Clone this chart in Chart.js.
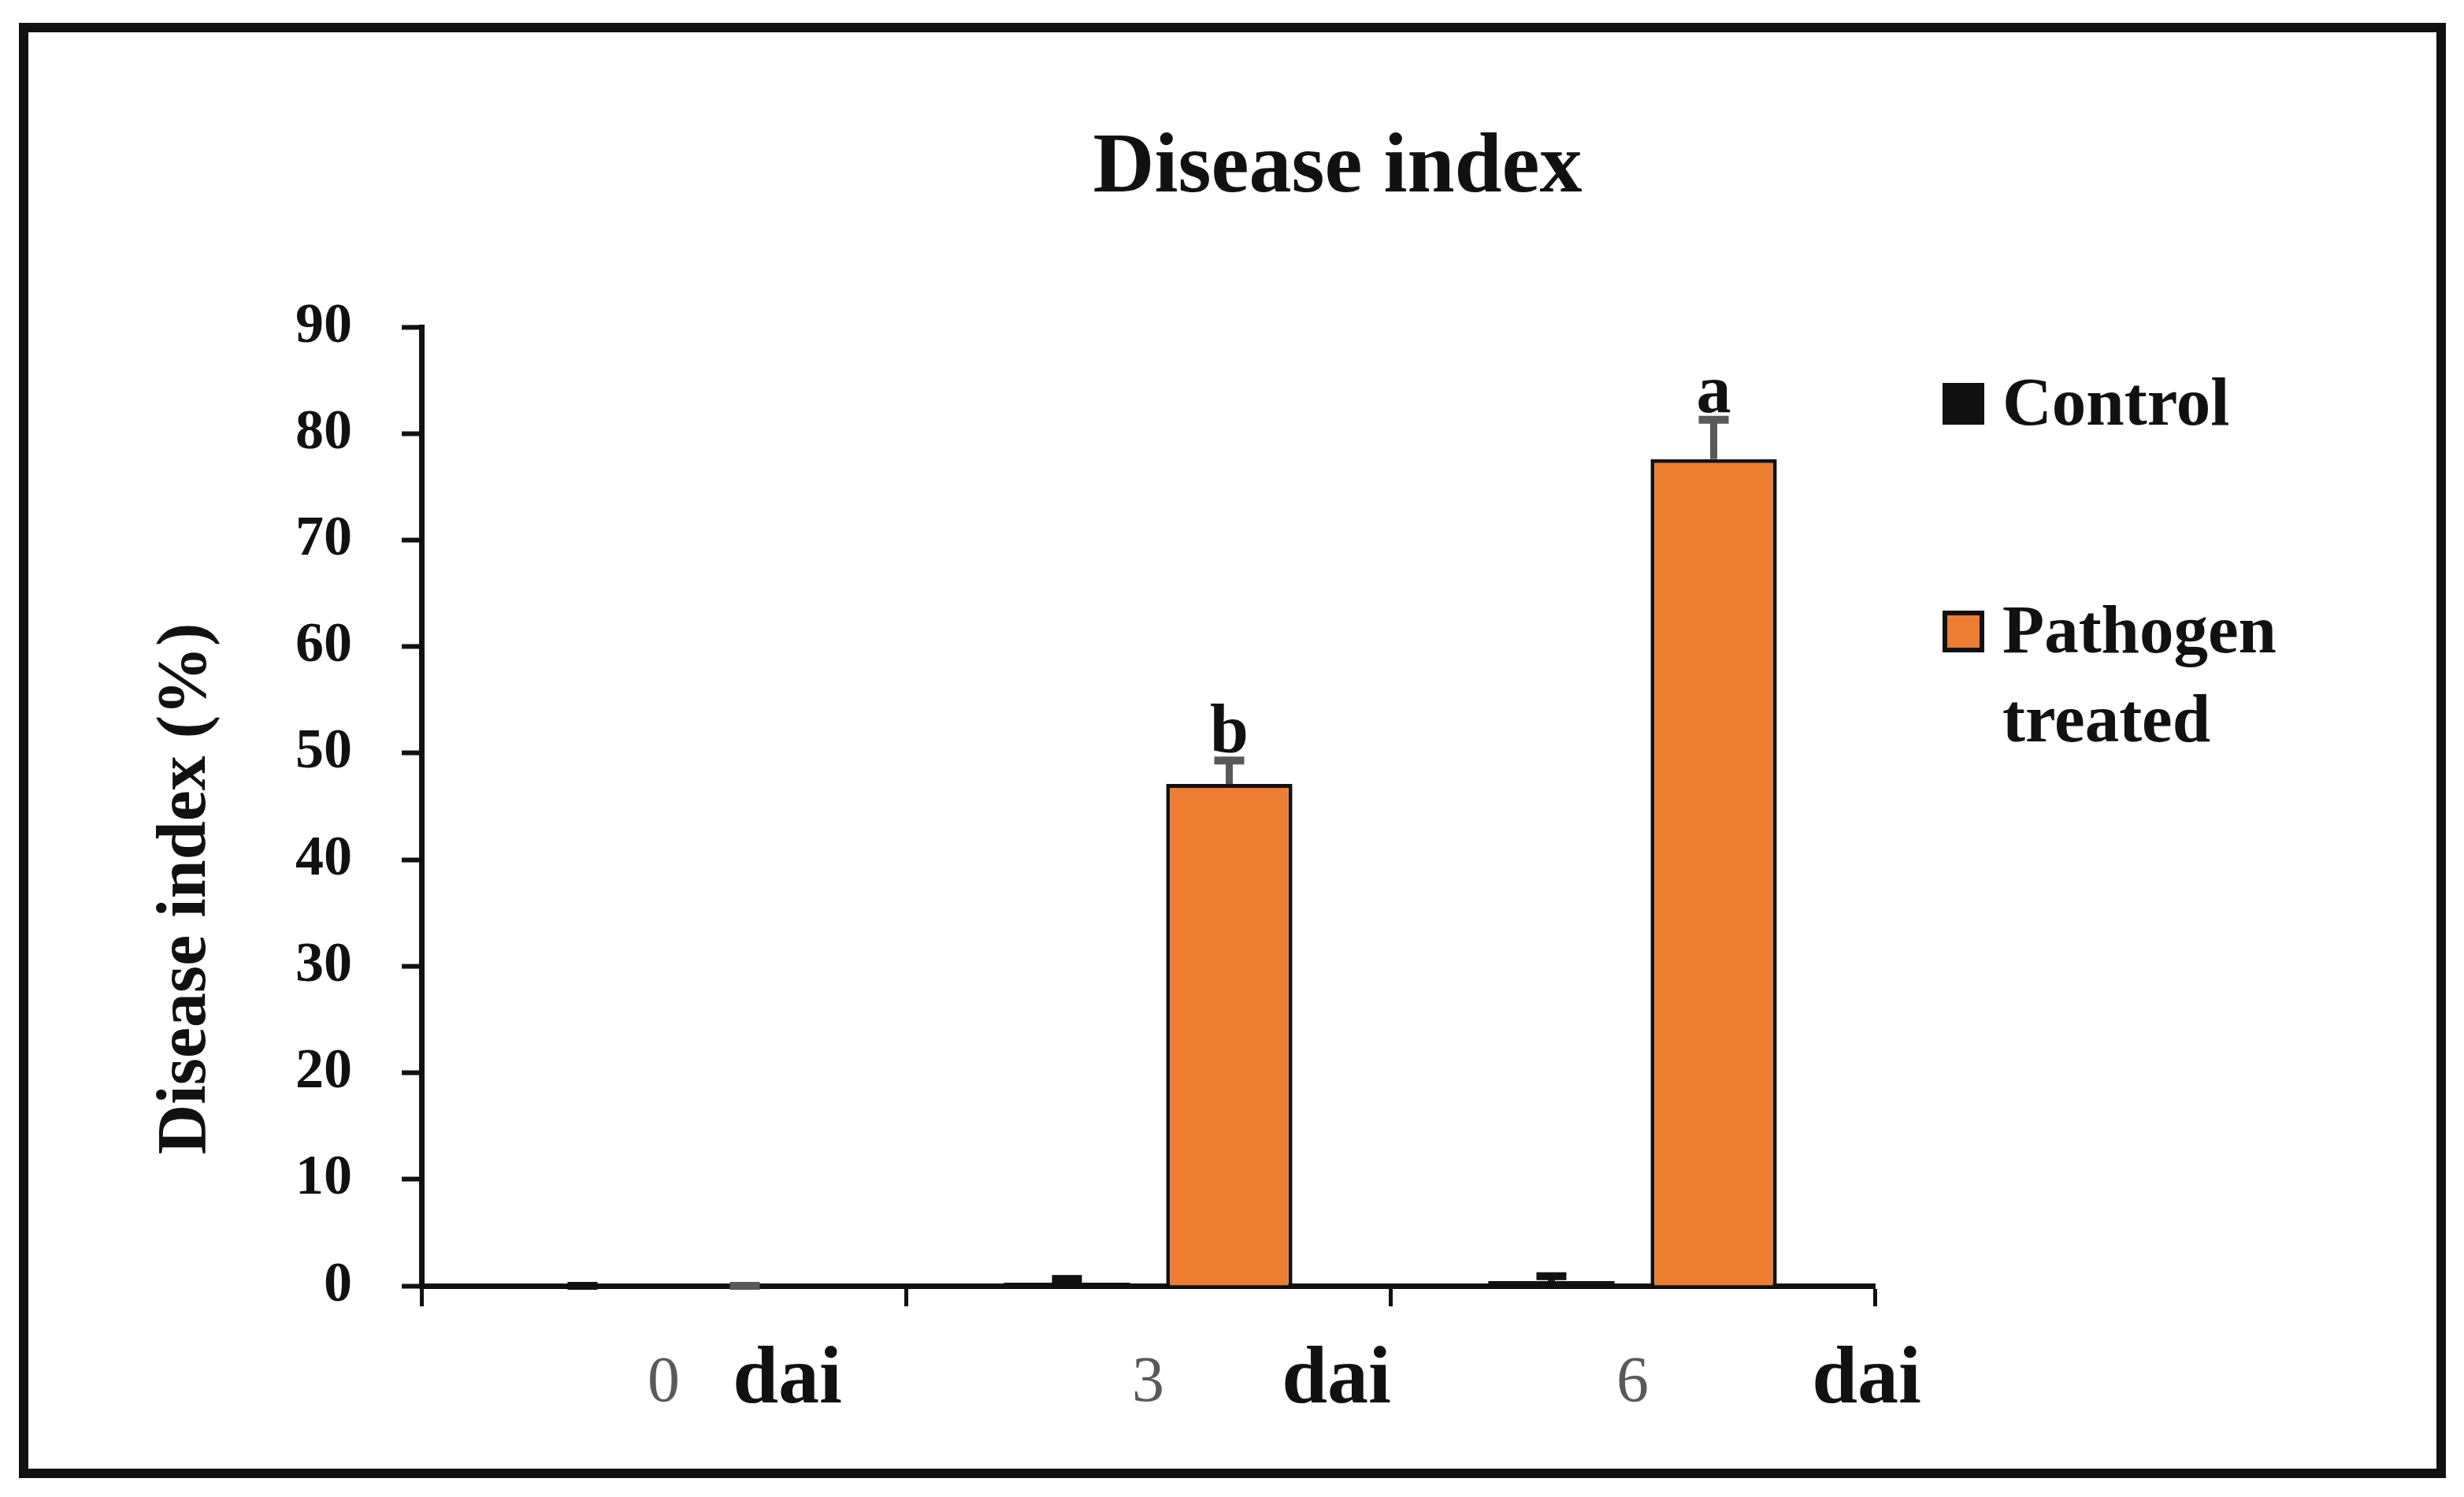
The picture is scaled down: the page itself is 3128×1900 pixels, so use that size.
<!DOCTYPE html>
<html><head><meta charset="utf-8">
<script src="https://cdn.jsdelivr.net/npm/chart.js@4.4.1/dist/chart.umd.min.js"></script>
<style>html,body{margin:0;padding:0;background:#fff}#wrap{width:3128px;height:1900px;position:relative}</style>
</head><body><div id="wrap"><canvas id="c"></canvas></div>
<script>
// ---- data ----
const categories = ['0', '3', '6'];
const unitLabel = 'dai';
const seriesNames = ['Control', 'Pathogen treated'];
const controlValues = [0, 0.3, 0.45];
const controlErrors = [0, 0.35, 0.45];
const pathogenValues = [0, 47.1, 77.6];
const pathogenErrors = [0, 2.2, 3.7];
const pathogenLetters = ['', 'b', 'a'];
const yTickValues = [0, 10, 20, 30, 40, 50, 60, 70, 80, 90];
const chartTitle = 'Disease index';
const yAxisTitle = 'Disease index (%)';

// ---- styles / layout ----
const SERIF = '"Liberation Serif", "Times New Roman", serif';
const INK = '#111111';
const ORANGE = '#ED7D31';
const GREY = '#595959';
const daiOffsets = [157, 239, 297];

const deco = {
  id: 'deco',
  beforeDraw(chart) {
    const ctx = chart.ctx;
    ctx.save();
    ctx.fillStyle = '#fff';
    ctx.fillRect(0, 0, chart.width, chart.height);
    ctx.restore();
  },
  afterDatasetsDraw(chart) {
    const ctx = chart.ctx;
    const ys = chart.scales.y;
    ctx.save();
    chart.data.datasets.forEach((ds, d) => {
      const meta = chart.getDatasetMeta(d);
      meta.data.forEach((bar, i) => {
        const v = ds.data[i], e = ds.errors[i];
        const top = ys.getPixelForValue(v + e);
        ctx.strokeStyle = ds.errorColor;
        ctx.lineCap = 'butt';
        ctx.lineWidth = 9;
        ctx.beginPath(); ctx.moveTo(bar.x, bar.y); ctx.lineTo(bar.x, top); ctx.stroke();
        ctx.lineWidth = 10;
        ctx.beginPath(); ctx.moveTo(bar.x - 19, top); ctx.lineTo(bar.x + 19, top); ctx.stroke();
        if (ds.letters && ds.letters[i]) {
          ctx.fillStyle = INK;
          ctx.font = 'bold 88px ' + SERIF;
          ctx.textAlign = 'center';
          ctx.textBaseline = 'alphabetic';
          ctx.fillText(ds.letters[i], bar.x, top - 10);
        }
      });
    });
    ctx.restore();
  },
  afterDraw(chart) {
    const ctx = chart.ctx;
    const xs = chart.scales.x;
    ctx.save();
    // frame
    ctx.strokeStyle = INK; ctx.lineWidth = 12;
    ctx.strokeRect(30, 35, 3069, 1835);
    // title
    ctx.fillStyle = INK;
    ctx.font = 'bold 108px ' + SERIF;
    ctx.textAlign = 'center'; ctx.textBaseline = 'alphabetic';
    ctx.fillText(chartTitle, 1698, 243);
    // "dai" unit labels
    ctx.font = 'bold 104px ' + SERIF;
    categories.forEach((c, i) => {
      ctx.fillText(unitLabel, xs.getPixelForValue(i) + daiOffsets[i], 1780);
    });
    // y title
    ctx.save();
    ctx.translate(260, 1128);
    ctx.rotate(-Math.PI / 2);
    ctx.font = 'bold 88px ' + SERIF;
    ctx.textAlign = 'center'; ctx.textBaseline = 'alphabetic';
    ctx.fillText(yAxisTitle, 0, 0);
    ctx.restore();
    // legend
    const lx = 2466, box = 53, tx = 2542;
    const rowBase = [539, 828];
    const lineH = 113;
    ctx.font = 'bold 87px ' + SERIF;
    ctx.textAlign = 'left'; ctx.textBaseline = 'alphabetic';
    chart.data.datasets.forEach((ds, d) => {
      const b = rowBase[d];
      ctx.fillStyle = ds.backgroundColor;
      ctx.fillRect(lx, b - box, box, box);
      if (ds.borderWidth) {
        ctx.strokeStyle = INK; ctx.lineWidth = 6;
        ctx.strokeRect(lx + 3, b - box + 3, box - 6, box - 6);
      }
      ctx.fillStyle = INK;
      const words = ds.label.split(' ');
      let lines = [], cur = '';
      words.forEach(w => {
        const t = cur ? cur + ' ' + w : w;
        if (ctx.measureText(t).width > 420 && cur) { lines.push(cur); cur = w; } else cur = t;
      });
      lines.push(cur);
      lines.forEach((ln, k) => ctx.fillText(ln, tx, b + k * lineH));
    });
    ctx.restore();
  }
};

new Chart(document.getElementById('c'), {
  type: 'bar',
  data: {
    labels: categories,
    datasets: [
      { label: seriesNames[0], data: controlValues, errors: controlErrors, errorColor: INK,
        backgroundColor: INK, borderColor: INK, borderWidth: 0,
        categoryPercentage: 0.67, barPercentage: 0.778 },
      { label: seriesNames[1], data: pathogenValues, errors: pathogenErrors, errorColor: GREY,
        letters: pathogenLetters,
        backgroundColor: ORANGE, borderColor: INK, borderWidth: 5,
        categoryPercentage: 0.67, barPercentage: 0.778 }
    ]
  },
  options: {
    responsive: true, maintainAspectRatio: false, animation: false, devicePixelRatio: 1,
    layout: { padding: { left: 285, right: 748, top: 415, bottom: 68 } },
    plugins: {
      legend: { display: false },
      tooltip: { enabled: false },
      title: { display: false }
    },
    scales: {
      x: {
        grid: { display: true, drawOnChartArea: false, drawTicks: true, tickLength: 26,
          tickWidth: 5, tickColor: INK, offset: true },
        border: { display: true, color: INK, width: 7 },
        ticks: { color: GREY, padding: 49, font: { family: SERIF, size: 82 } },
        afterFit(s) { s.height = 200; }
      },
      y: {
        min: 0, max: 90,
        afterBuildTicks(s) { s.ticks = yTickValues.map(v => ({ value: v })); },
        grid: { display: true, drawOnChartArea: false, drawTicks: true, tickLength: 25,
          tickWidth: 6, tickColor: INK },
        border: { display: true, color: INK, width: 7 },
        ticks: { color: INK, padding: 63, font: { family: SERIF, size: 72, weight: 'bold' } },
        afterFit(s) { s.width = 250; }
      }
    }
  },
  plugins: [deco]
});
</script></body></html>
